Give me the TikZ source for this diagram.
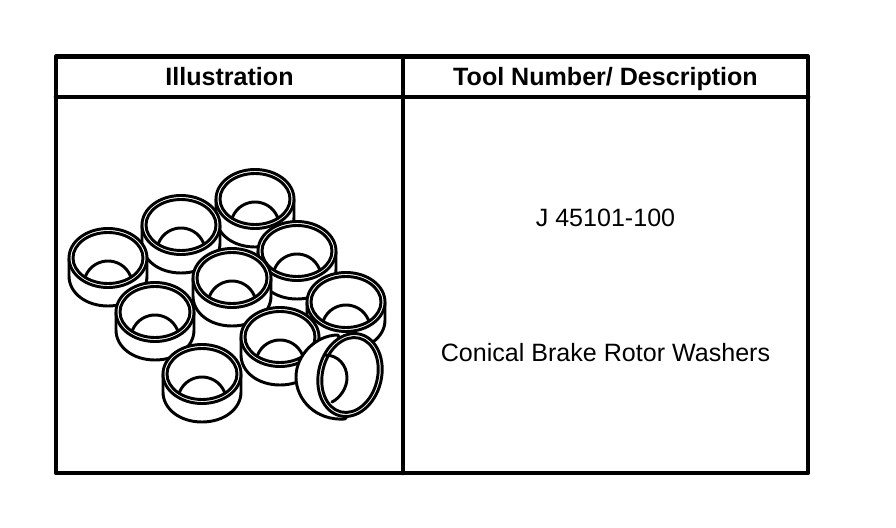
\documentclass[tikz,border=0pt]{standalone}
\usepackage{fontspec}
\setmainfont{Liberation Sans}
\tikzset{
  rulestyle/.style={line width=3.4pt},
  washerline/.style={line width=2.2pt,fill=white},
  holeline/.style={line width=2.2pt},
  headtext/.style={font=\fontsize{18.8}{22}\selectfont\bfseries,anchor=base},
  celltext/.style={font=\fontsize{18.8}{22}\selectfont,anchor=base}
}
\begin{document}
\begin{tikzpicture}[line cap=round,line join=round,x=0.75pt,y=-0.75pt]
\useasboundingbox (0,0) rectangle (896,528);
% table
\draw [rulestyle] (56,56.5) rectangle (808,473);
\draw [rulestyle] (56,97)-- (808,97);
\draw [rulestyle] (403,56.5)-- (403,473);
\node [headtext] (illustration) at (229.5,85.5) {Illustration};
\node [headtext] (toolnumber) at (605.5,85.5) {Tool Number/ Description};
\node [celltext] (partnumber) at (605.5,226.5) {J 45101-100};
\node [celltext] (partname) at (605.5,361.5) {Conical Brake Rotor Washers};
% washers, back to front
\foreach \cx/\cy in {255/199,181/225,297/251,108/258,232/278,346/302,155/312,280/337,202/374}{
\draw [washerline] (\cx-39,\cy)-- (\cx-39,\cy+18) .. controls (\cx-39,\cy+35) and (\cx-22,\cy+48) .. (\cx,\cy+48) .. controls (\cx+22,\cy+48) and (\cx+39,\cy+35) .. (\cx+39,\cy+18)-- (\cx+39,\cy)-- cycle;
\draw [washerline] (\cx,\cy) ellipse [x radius=39,y radius=29.5];
\draw [washerline] (\cx,\cy) ellipse [x radius=35,y radius=25.5];
\draw [holeline] (\cx-23,\cy+19) .. controls (\cx-18,\cy+7) and (\cx-8,\cy+3) .. (\cx,\cy+3) .. controls (\cx+8,\cy+3) and (\cx+18,\cy+7) .. (\cx+23,\cy+19);
}
% tipped washer
\draw [washerline] (338,335) .. controls (316,335) and (296,355) .. (296,377) .. controls (296,400) and (316,421) .. (345,419) -- (360,400) -- cycle;
\draw [washerline] (350,375) ellipse [x radius=42,y radius=31.5,rotate=76];
\draw [washerline] (350,375) ellipse [x radius=38,y radius=27.5,rotate=76];
\draw [holeline] (325,355) .. controls (338,355) and (347,365) .. (347,378) .. controls (347,388) and (340,398) .. (332,402);
\end{tikzpicture}
\end{document}
